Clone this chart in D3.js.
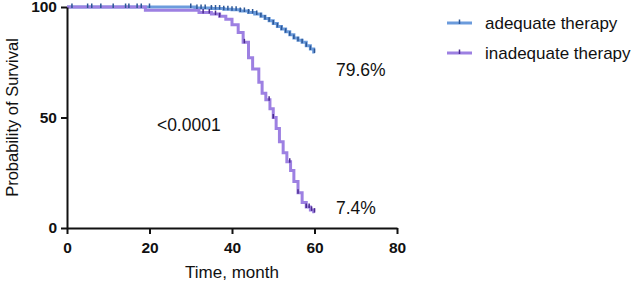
<!DOCTYPE html>
<html>
<head>
<meta charset="utf-8">
<script src="https://cdn.jsdelivr.net/npm/d3@7"></script>
<style>
  html, body { margin: 0; padding: 0; background: #fff; }
  svg { display: block; }
</style>
</head>
<body>
<div id="chart"></div>
<script>
// Kaplan-Meier steps: [month, survival %]
const adequateSteps = [
  [0, 100], [31, 99.6], [35, 99.3], [38, 99.0], [40, 98.7], [42, 98.2],
  [44, 97.5], [45.5, 96.8], [47, 95.8], [48, 94.8], [49, 93.8], [50, 92.5],
  [51, 91.2], [52, 90.0], [53, 88.8], [54, 87.5], [55, 86.0], [56, 85.0],
  [57, 84.0], [58, 82.5], [59, 81.0], [59.8, 79.6], [60, 79.6]
];
const inadequateSteps = [
  [0, 100], [19, 98.5], [32, 97.5], [35, 96.8], [37, 95.8], [38.5, 94.5],
  [40, 92], [41.5, 88.5], [42.7, 84], [44, 77], [45, 72], [46.5, 66],
  [47.3, 61], [48.2, 58], [49.2, 54], [50, 50], [50.7, 45], [51.5, 39],
  [52.4, 34], [53.3, 30], [54.2, 26], [55, 21], [56, 16], [57, 11.5],
  [58, 9.5], [59, 8.2], [59.8, 7.4], [60, 7.4]
];
const adequateCensored = [1.2, 5, 6, 8.2, 11.2, 14.2, 15, 17, 18, 20, 30, 31.5, 32.5,
  33.5, 35, 36, 37, 38, 39, 40, 41, 42, 43, 44, 45, 46, 47, 48, 49, 50, 51, 52,
  53, 54, 55, 56, 57, 58, 59, 60];
const inadequateCensored = [33, 34.5, 36, 37, 43, 49, 50, 54, 56, 58, 58.7, 59.3, 60];

const xTicks = [0, 20, 40, 60, 80];
const yTicks = [0, 50, 100];
const seriesNames = ["adequate therapy", "inadequate therapy"];
const endLabels = ["79.6%", "7.4%"];
const pValue = "<0.0001";

const width = 638, height = 286;
const margin = { top: 7, right: 241, bottom: 58, left: 67 };
const innerWidth = width - margin.left - margin.right;
const innerHeight = height - margin.top - margin.bottom;
const font = "Liberation Sans, Arial, sans-serif";

const lineColors = ["#6b9bdc", "#9d80e2"];
const tickColors = ["#2c5796", "#4b2b8f"];

const svg = d3.select("#chart")
  .append("svg")
  .attr("width", width)
  .attr("height", height)
  .attr("viewBox", [0, 0, width, height])
  .attr("font-family", font);

const innerChart = svg.append("g")
  .attr("transform", `translate(${margin.left}, ${margin.top})`);

const xScale = d3.scaleLinear().domain([0, 80]).range([0, innerWidth]);
const yScale = d3.scaleLinear().domain([0, 100]).range([innerHeight, 0]);

// survival value at time t (step function)
const survAt = (steps, t) => {
  let v = steps[0][1];
  steps.forEach(s => { if (s[0] <= t) v = s[1]; });
  return v;
};

const line = d3.line()
  .x(d => xScale(d[0]))
  .y(d => yScale(d[1]))
  .curve(d3.curveStepAfter);

const series = [
  { steps: adequateSteps, cens: adequateCensored },
  { steps: inadequateSteps, cens: inadequateCensored }
];

series.forEach((s, i) => {
  innerChart.append("path")
    .datum(s.steps)
    .attr("d", line)
    .attr("fill", "none")
    .attr("stroke", lineColors[i])
    .attr("stroke-width", 3);
});

series.forEach((s, i) => {
  innerChart.selectAll(`.cens-${i}`)
    .data(s.cens)
    .join("line")
      .attr("class", `cens-${i}`)
      .attr("x1", d => xScale(d))
      .attr("x2", d => xScale(d))
      .attr("y1", d => yScale(survAt(s.steps, d)) - 3.5)
      .attr("y2", d => yScale(survAt(s.steps, d)) + 1)
      .attr("stroke", tickColors[i])
      .attr("stroke-width", 1.5);
});

// Axes
const bottomAxis = d3.axisBottom(xScale).tickValues(xTicks).tickSize(6).tickSizeOuter(0);
const leftAxis = d3.axisLeft(yScale).tickValues(yTicks).tickSize(6).tickSizeOuter(0);

const xAxisG = innerChart.append("g")
  .attr("transform", `translate(0, ${innerHeight})`)
  .call(bottomAxis);
const yAxisG = innerChart.append("g").call(leftAxis);

[xAxisG, yAxisG].forEach(g => {
  g.attr("font-family", font).attr("font-size", 15.5).attr("font-weight", "bold");
  g.selectAll("path, line").attr("stroke", "#111").attr("stroke-width", 2);
  g.selectAll("text").attr("fill", "#111");
});
xAxisG.selectAll("text").attr("dy", "1.05em");
yAxisG.selectAll("text").attr("x", -10);

// Axis titles
svg.append("text")
  .attr("x", margin.left + xScale(40))
  .attr("y", 278)
  .attr("text-anchor", "middle")
  .attr("font-size", 17)
  .attr("fill", "#111")
  .text("Time, month");

svg.append("text")
  .attr("transform", `translate(18, ${margin.top + innerHeight / 2}) rotate(-90)`)
  .attr("text-anchor", "middle")
  .attr("font-size", 16.5)
  .attr("fill", "#111")
  .text("Probability of Survival");

// Annotations
innerChart.append("text")
  .attr("x", xScale(65.2))
  .attr("y", yScale(survAt(adequateSteps, 60)) + 24)
  .attr("font-size", 17.5)
  .attr("fill", "#111")
  .text(endLabels[0]);

innerChart.append("text")
  .attr("x", xScale(65.2))
  .attr("y", yScale(survAt(inadequateSteps, 60)) + 2)
  .attr("font-size", 17.5)
  .attr("fill", "#111")
  .text(endLabels[1]);

innerChart.append("text")
  .attr("x", xScale(21.8))
  .attr("y", yScale(44))
  .attr("font-size", 17.5)
  .attr("fill", "#111")
  .text(pValue);

// Legend
const legend = svg.append("g").attr("transform", "translate(447, 23)");
seriesNames.forEach((name, i) => {
  const g = legend.append("g").attr("transform", `translate(0, ${i * 30})`);
  g.append("line")
    .attr("x1", 0).attr("x2", 25)
    .attr("stroke", lineColors[i]).attr("stroke-width", 3);
  g.append("line")
    .attr("x1", 12.5).attr("x2", 12.5).attr("y1", -3.5).attr("y2", 1)
    .attr("stroke", tickColors[i]).attr("stroke-width", 1.5);
  g.append("text")
    .attr("x", 38).attr("y", 0).attr("dy", "0.35em")
    .attr("font-size", 17)
    .attr("fill", "#111")
    .text(name);
});
</script>
</body>
</html>
